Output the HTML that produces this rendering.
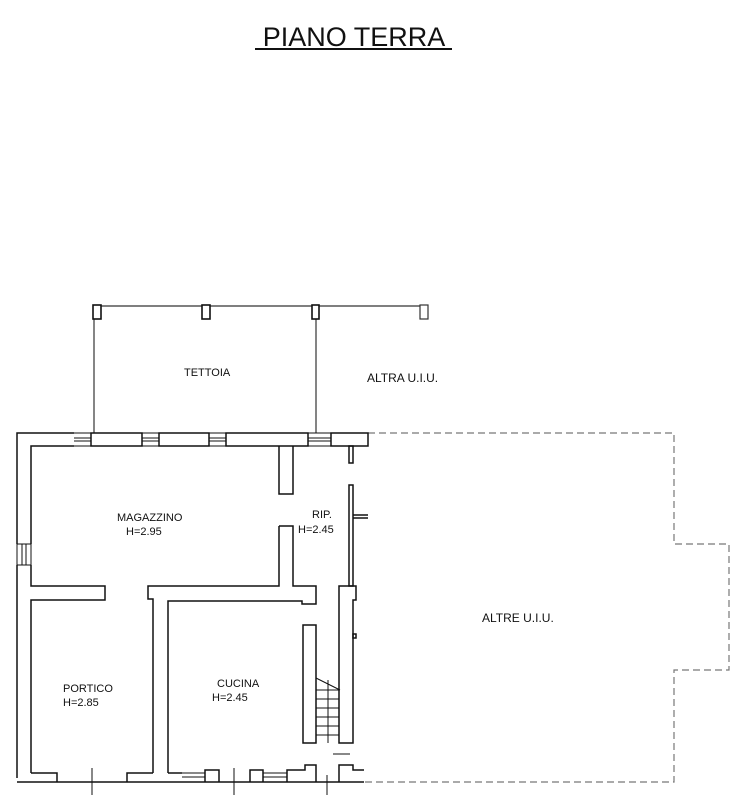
<!DOCTYPE html>
<html><head><meta charset="utf-8"><style>
html,body{margin:0;padding:0;background:#fff;}
svg{display:block}
text{font-family:"Liberation Sans",sans-serif;fill:#111}
</style></head><body>
<svg width="753" height="800" viewBox="0 0 753 800" xmlns="http://www.w3.org/2000/svg">
<text x="354" y="46" font-size="27" text-anchor="middle">PIANO TERRA</text>
<line x1="255" y1="49" x2="452" y2="49" stroke="#111" stroke-width="2"/>

<g fill="none" stroke="#333" stroke-width="1.2">
<line x1="93" y1="306" x2="428" y2="306"/>
<line x1="94" y1="319" x2="94" y2="433"/>
<line x1="316" y1="319" x2="316" y2="433"/>
<rect x="93" y="305" width="8" height="14" fill="#fff" stroke="#111" stroke-width="1.6"/>
<rect x="202" y="305" width="8" height="14" fill="#fff" stroke="#111" stroke-width="1.6"/>
<rect x="312" y="305" width="7" height="14" fill="#fff" stroke="#111" stroke-width="1.6"/>
<rect x="420" y="305" width="8" height="14" fill="#fff"/>
</g>

<g fill="none" stroke="#777" stroke-width="1.2" stroke-dasharray="7,4">
<polyline points="368,433 674,433 674,544 729,544 729,670 674,670 674,782 364,782"/>
</g>

<g fill="none" stroke="#111" stroke-width="1.5">
<polyline points="74,433 17,433 17,544"/>
<polyline points="74,446 31,446 31,544"/>
<rect x="91" y="433" width="51" height="13"/>
<rect x="159" y="433" width="50" height="13"/>
<rect x="226" y="433" width="82" height="13"/>
<rect x="331" y="433" width="37" height="13"/>
<polyline points="17,565 17,778"/>
<polyline points="31,565 31,586 105,586 105,600 31,600 31,773"/>
<path d="M279,446 V494 H293 V446"/>
<path d="M279,526 V586 H148 V599 H153 V773"/>
<path d="M168,773 V601 H302 V604 H316 V586 H293 V526 H279"/>
<rect x="349" y="446" width="4" height="17"/>
<rect x="349" y="485" width="4" height="101"/>
<line x1="353" y1="515" x2="368" y2="515"/>
<line x1="353" y1="518" x2="368" y2="518"/>
<path d="M339,586 H356 V600 H353 V743 H339 Z"/>
<rect x="353" y="634" width="3" height="4"/>
<rect x="303" y="625" width="13" height="118"/>
<line x1="17" y1="782" x2="364" y2="782"/>
<path d="M31,773 H57 V782 M127,782 V773 H153"/>
<path d="M168,773 H182 M205,782 V770 H219 V782 M250,782 V770 H263 V782 M287,782 V770 H305 V765 H316 V782"/>
<path d="M339,782 V765 H353 V770 H364"/>
</g>
<g stroke="#111" stroke-width="1" fill="none">
<path d="M74,433 H91 M74,446 H91 M74,438 H91 M74,441 H91"/>
<path d="M142,433 H159 M142,446 H159 M142,438 H159 M142,441 H159"/>
<path d="M209,433 H226 M209,446 H226 M209,438 H226 M209,441 H226"/>
<path d="M308,433 H331 M308,446 H331 M308,438 H331 M308,441 H331"/>
<path d="M17,544 V565 M31,544 V565 M22,544 V565 M26,544 V565 M17,544 H31 M17,565 H31"/>
<path d="M182,773 H205 M182,782 H205 M182,777 H205"/>
<path d="M263,773 H287 M263,782 H287 M263,777 H287"/>
<path d="M316,678 L340,690 M316,690 H339 M316,699 H339 M316,708 H339 M316,717 H339 M316,726 H339 M316,735 H339 M328,680 V743"/>
<path d="M92,768 V795 M234,768 V795 M327,775 V795 M333,754 H350"/>
</g>

<g font-size="11">
<text x="184" y="376">TETTOIA</text>
<text x="367" y="382" font-size="12">ALTRA U.I.U.</text>
<text x="117" y="521">MAGAZZINO</text>
<text x="126" y="535">H=2.95</text>
<text x="312" y="518">RIP.</text>
<text x="298" y="533">H=2.45</text>
<text x="482" y="622" font-size="12">ALTRE U.I.U.</text>
<text x="63" y="692">PORTICO</text>
<text x="63" y="706">H=2.85</text>
<text x="217" y="687">CUCINA</text>
<text x="212" y="701">H=2.45</text>
</g>
</svg>
</body></html>
